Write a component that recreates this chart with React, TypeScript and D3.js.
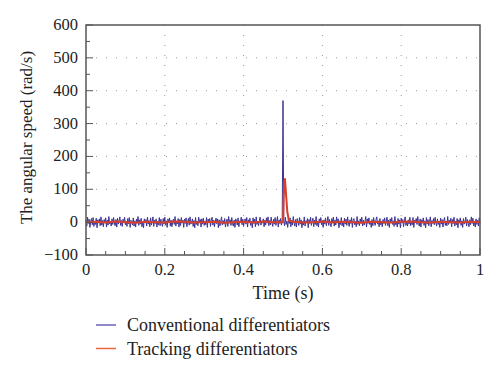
import React from "react";
import * as d3 from "d3";

const xTicks = [0, 0.2, 0.4, 0.6, 0.8, 1];
const xTickLabels = ["0", "0.2", "0.4", "0.6", "0.8", "1"];
const yTicks = [-100, 0, 100, 200, 300, 400, 500, 600];
const yTickLabels = ["−100", "0", "100", "200", "300", "400", "500", "600"];

// Conventional differentiator: samples every 0.002 s, spike at 0.5 s
const convStep = 0.002;
const convValues = [
  6,-12,15,-4,9,-16,3,11,-8,14,-13,2,-7,12,-17,7,-3,10,-11,16,-9,5,-14,8,-2,
  13,-15,6,-9,17,-5,2,-12,10,-7,14,-3,-11,8,-15,12,-6,4,16,-10,5,-13,9,-2,15,
  -8,3,-13,11,-5,14,-16,6,2,-9,13,-12,4,-15,9,-3,17,-10,7,-6,12,-14,3,-17,10,
  -2,8,-12,15,-6,5,-14,13,-9,2,16,-13,6,-4,10,-15,3,-8,14,-11,9,-3,-13,11,-6,
  15,-9,4,-16,10,-2,13,-12,6,-14,3,9,-7,17,-12,2,-5,11,-15,8,-10,14,-3,6,-16,
  9,-4,13,-14,2,11,-9,16,-6,-3,10,-13,5,-17,14,-7,3,-11,15,-2,8,-15,10,-6,12,
  -10,3,-8,14,-16,9,-2,11,-13,5,15,-9,6,-14,2,12,-5,10,-17,7,-11,3,16,-9,5,
  -6,11,-15,2,9,-13,17,-3,7,-10,14,-5,-12,6,-16,10,3,-9,13,-14,4,-2,15,-8,9,
  -13,5,10,-6,14,-15,7,-2,12,-10,3,-17,13,-4,9,-14,16,-7,2,-11,6,15,-9,4,-3,
  10,-14,6,-9,13,-3,16,-11,5,-8,15,-2,-13,9,-6,14,-10,3,17,-15,7,-4,11,-9,3,
  370,
  4,-11,15,-7,3,-16,10,-4,13,-14,6,-9,17,-3,-12,8,-15,11,2,-10,14,-6,7,-17,3,
  -9,16,-12,4,-2,11,-17,8,-4,15,-10,3,12,-14,6,-7,17,-11,2,-15,10,-3,14,-8,5,
  -16,7,-6,13,-11,2,17,-10,8,-4,-14,11,-2,15,-12,6,-9,16,-3,10,-17,4,-7,14,-11,
  3,-15,12,-6,9,-10,16,-2,-13,7,-4,14,-16,6,11,-8,2,-14,17,-7,4,-11,10,-3,15,
  -12,6,-9,2,17,-15,10,-4,13,-7,3,-16,8,-11,14,-2,-10,7,16,-6,4,-14,11,-8,2,
  -14,8,-4,13,-10,3,15,-11,6,-16,10,-2,14,-7,4,-13,17,-8,2,-15,11,-6,7,-17,12,
  -3,8,-14,4,16,-10,2,-12,7,-6,15,-11,3,-8,14,-16,6,-2,11,-7,17,-4,-12,10,-15,
  7,-3,13,-10,4,-17,14,-6,8,-11,2,16,-14,5,-4,11,-8,15,-2,-12,10,-7,3,-16,12,
  -6,8,-15,4,14,-10,2,-11,17,-7,6,-3,12,-14,8,-4,15,-12,3,-8,11,-17,7,-2,13,
  -10,4,-16,11,-6,2,15,-12,8,-3,-14,7,-8,16,-4,12,-11,3,-15,10,-7,6,-12,13,-4,
];

// Tracking differentiator
const trackTimes = [
  0, 0.025, 0.05, 0.075, 0.1, 0.125, 0.15, 0.175, 0.2, 0.225, 0.25, 0.275, 0.3, 0.325, 0.35, 0.375, 0.4, 0.425, 0.45, 0.475,
  0.5, 0.503, 0.505, 0.508, 0.511, 0.515,
  0.525, 0.55, 0.575, 0.6, 0.625, 0.65, 0.675, 0.7, 0.725, 0.75, 0.775, 0.8, 0.825, 0.85, 0.875, 0.9, 0.925, 0.95, 0.975, 1,
];
const trackValues = [
  0, 1, -1, 2, 0, -2, 1, 0, -1, 2, 1, -1, 0, 1, -2, 0, 1, -1, 2, 0,
  0, 120, 131, 80, 30, 5,
  1, -1, 0, 2, -1, 1, 0, -2, 1, 0, -1, 1, 2, 0, -1, 1, 0, -1, 1, 0,
];

const legendLabels = ["Conventional differentiators", "Tracking differentiators"];
const colors = ["#3d3494", "#d9402b"];
const legendColors = ["#6a60b8", "#e8663c"];

const W = 500, H = 376;
const L = 86, R = 480, T = 25, B = 255;
const FONT = "'Liberation Serif', serif";

export default function App() {
  const x = d3.scaleLinear().domain([0, 1]).range([L, R]);
  const y = d3.scaleLinear().domain([-100, 600]).range([B, T]);
  const line = d3.line<[number, number]>().x((d) => x(d[0])).y((d) => y(d[1]));
  const convData: [number, number][] = convValues.map((v, i) => [i * convStep, v]);
  const trackData: [number, number][] = trackTimes.map((t, i) => [t, trackValues[i]]);
  const xMinor = d3.range(0, 1.0001, 0.05);
  const yMinor = d3.range(-100, 600.001, 50);
  const frame = "#555";

  return (
    <svg width={W} height={H} style={{ position: "absolute", left: 0, top: 0, background: "#fff" }}>
      <rect width={W} height={H} fill="#fff" />
      {/* grid */}
      {xTicks.slice(1, -1).map((t) => (
        <line key={"gx" + t} x1={x(t)} x2={x(t)} y1={T} y2={B} stroke="#999" strokeWidth={1} strokeDasharray="1,9" />
      ))}
      {yTicks.slice(1, -1).map((t) => (
        <line key={"gy" + t} x1={L} x2={R} y1={y(t)} y2={y(t)} stroke="#999" strokeWidth={1} strokeDasharray="1,9" />
      ))}
      {/* data */}
      <path d={line(convData) || ""} fill="none" stroke={colors[0]} strokeWidth={1} />
      <path d={line(trackData) || ""} fill="none" stroke={colors[1]} strokeWidth={2} strokeLinejoin="round" />
      {/* ticks */}
      {xMinor.map((t, i) => (
        <line key={"tx" + i} x1={x(t)} x2={x(t)} y1={B} y2={B - (i % 4 === 0 ? 7 : 4)} stroke={frame} strokeWidth={1} />
      ))}
      {yMinor.map((t, i) => (
        <line key={"ty" + i} x1={L} x2={L + (i % 2 === 0 ? 7 : 4)} y1={y(t)} y2={y(t)} stroke={frame} strokeWidth={1} />
      ))}
      <rect x={L} y={T} width={R - L} height={B - T} fill="none" stroke={frame} strokeWidth={1.5} />
      {/* tick labels */}
      {xTicks.map((t, i) => (
        <text key={"lx" + t} x={x(t)} y={275} textAnchor="middle" fontFamily={FONT} fontSize={16.5} fill="#222">
          {xTickLabels[i]}
        </text>
      ))}
      {yTicks.map((t, i) => (
        <text key={"ly" + t} x={78} y={y(t) + 5} textAnchor="end" fontFamily={FONT} fontSize={16.5} fill="#222">
          {yTickLabels[i]}
        </text>
      ))}
      <text x={283} y={299} textAnchor="middle" fontFamily={FONT} fontSize={18} fill="#222">Time (s)</text>
      <text transform={`translate(32,137.5) rotate(-90)`} textAnchor="middle" fontFamily={FONT} fontSize={17} fill="#222">
        The angular speed (rad/s)
      </text>
      {/* legend */}
      {legendLabels.map((lab, i) => (
        <g key={lab}>
          <line x1={96} x2={116} y1={325 + i * 23.5} y2={325 + i * 23.5} stroke={legendColors[i]} strokeWidth={1.5} />
          <text x={127} y={331 + i * 23.5} fontFamily={FONT} fontSize={18} fill="#222">{lab}</text>
        </g>
      ))}
    </svg>
  );
}
